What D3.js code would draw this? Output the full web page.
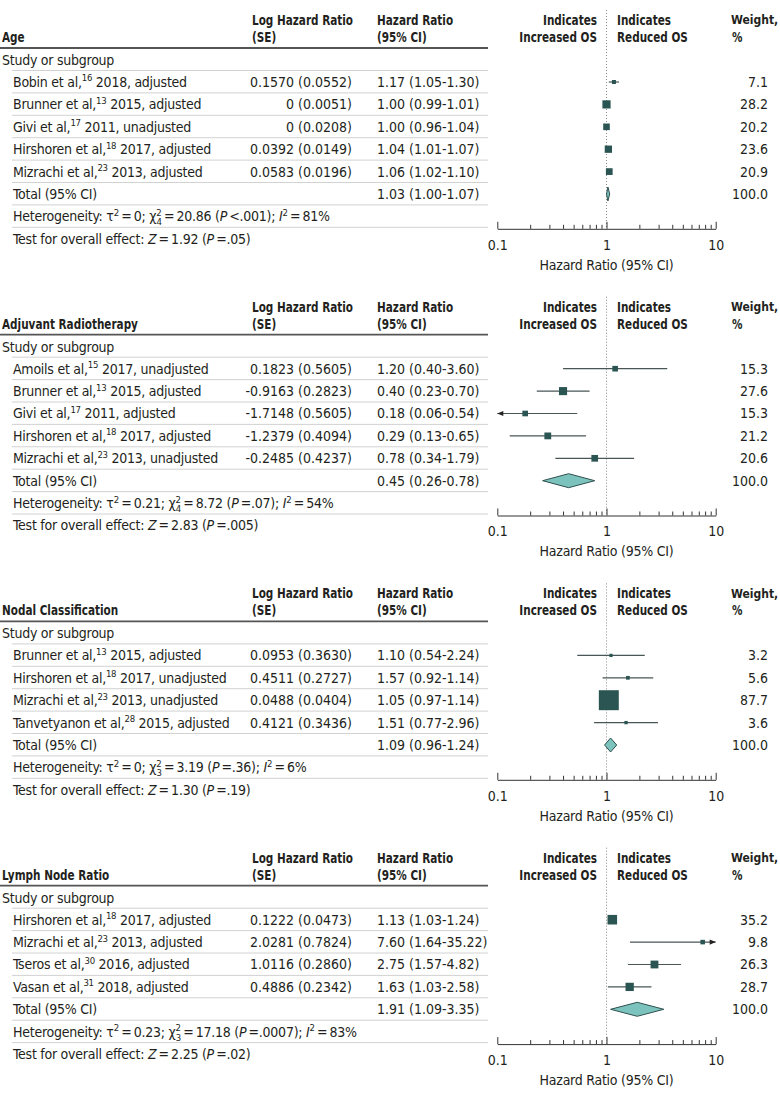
<!DOCTYPE html>
<html><head><meta charset="utf-8">
<script src="https://cdn.jsdelivr.net/npm/d3@7"></script>
<style>
body{margin:0;background:#fff}
svg text{font-family:"DejaVu Sans Condensed","DejaVu Sans",sans-serif;fill:#231f20}
</style>
</head><body>
<svg id="c" width="780" height="1097"></svg>
<script>
// ---------- DATA ----------
const panelTitles = ["Age", "Adjuvant Radiotherapy", "Nodal Classification", "Lymph Node Ratio"];
const studyAuthors = [
  ["Bobin et al,", "Brunner et al,", "Givi et al,", "Hirshoren et al,", "Mizrachi et al,"],
  ["Amoils et al,", "Brunner et al,", "Givi et al,", "Hirshoren et al,", "Mizrachi et al,"],
  ["Brunner et al,", "Hirshoren et al,", "Mizrachi et al,", "Tanvetyanon et al,"],
  ["Hirshoren et al,", "Mizrachi et al,", "Tseros et al,", "Vasan et al,"]
];
const studyRefs = [
  ["16", "13", "17", "18", "23"],
  ["15", "13", "17", "18", "23"],
  ["13", "18", "23", "28"],
  ["18", "23", "30", "31"]
];
const studySuffix = [
  [" 2018, adjusted", " 2015, adjusted", " 2011, unadjusted", " 2017, adjusted", " 2013, adjusted"],
  [" 2017, unadjusted", " 2015, adjusted", " 2011, adjusted", " 2017, adjusted", " 2013, unadjusted"],
  [" 2015, adjusted", " 2017, unadjusted", " 2013, unadjusted", " 2015, adjusted"],
  [" 2017, adjusted", " 2013, adjusted", " 2016, adjusted", " 2018, adjusted"]
];
const logHRLabels = [
  ["0.1570 (0.0552)", "0 (0.0051)", "0 (0.0208)", "0.0392 (0.0149)", "0.0583 (0.0196)"],
  ["0.1823 (0.5605)", "-0.9163 (0.2823)", "-1.7148 (0.5605)", "-1.2379 (0.4094)", "-0.2485 (0.4237)"],
  ["0.0953 (0.3630)", "0.4511 (0.2727)", "0.0488 (0.0404)", "0.4121 (0.3436)"],
  ["0.1222 (0.0473)", "2.0281 (0.7824)", "1.0116 (0.2860)", "0.4886 (0.2342)"]
];
const hrLabels = [
  ["1.17 (1.05-1.30)", "1.00 (0.99-1.01)", "1.00 (0.96-1.04)", "1.04 (1.01-1.07)", "1.06 (1.02-1.10)"],
  ["1.20 (0.40-3.60)", "0.40 (0.23-0.70)", "0.18 (0.06-0.54)", "0.29 (0.13-0.65)", "0.78 (0.34-1.79)"],
  ["1.10 (0.54-2.24)", "1.57 (0.92-1.14)", "1.05 (0.97-1.14)", "1.51 (0.77-2.96)"],
  ["1.13 (1.03-1.24)", "7.60 (1.64-35.22)", "2.75 (1.57-4.82)", "1.63 (1.03-2.58)"]
];
// plotted values (as drawn in the figure)
const hrValues = [
  [1.17, 1.00, 1.00, 1.04, 1.06],
  [1.20, 0.40, 0.18, 0.29, 0.78],
  [1.10, 1.57, 1.05, 1.51],
  [1.13, 7.60, 2.75, 1.63]
];
const ciLow = [
  [1.05, 0.99, 0.96, 1.01, 1.02],
  [0.40, 0.23, 0.06, 0.13, 0.34],
  [0.54, 0.92, 0.97, 0.77],
  [1.03, 1.64, 1.57, 1.03]
];
const ciHigh = [
  [1.30, 1.01, 1.04, 1.07, 1.10],
  [3.60, 0.70, 0.54, 0.65, 1.79],
  [2.24, 2.68, 1.14, 2.96],
  [1.24, 35.22, 4.82, 2.58]
];
const weights = [
  [7.1, 28.2, 20.2, 23.6, 20.9],
  [15.3, 27.6, 15.3, 21.2, 20.6],
  [3.2, 5.6, 87.7, 3.6],
  [35.2, 9.8, 26.3, 28.7]
];
const totalHR = [1.03, 0.45, 1.09, 1.91];
const totalLow = [1.00, 0.26, 0.96, 1.09];
const totalHigh = [1.07, 0.78, 1.24, 3.35];
const totalLabels = ["1.03 (1.00-1.07)", "0.45 (0.26-0.78)", "1.09 (0.96-1.24)", "1.91 (1.09-3.35)"];
const hetTau2 = ["0", "0.21", "0", "0.23"];
const hetChi2 = ["20.86", "8.72", "3.19", "17.18"];
const hetDf = ["4", "4", "3", "3"];
const hetP = ["<.001", "=.07", "=.36", "=.0007"];
const hetI2 = ["81", "54", "6", "83"];
const overallZ = ["1.92", "2.83", "1.30", "2.25"];
const overallP = ["=.05", "=.005", "=.19", "=.02"];
const axisTicks = [0.1, 1, 10];
const axisMinorTicks = [0.2,0.3,0.4,0.5,0.6,0.7,0.8,0.9,2,3,4,5,6,7,8,9];

// ---------- LAYOUT ----------
const svg = d3.select("#c");
const FS = 14;
const ROW = 22.4;
const x = d3.scaleLog().domain([0.1, 10]).range([497.3, 715.7]);
const boxSize = d3.scaleLinear().domain([0, 100]).range([2.6, 22.4]);
const SQ = "#2b5553", DIA = "#7cc3bd", LINE = "#4a5656";

function txt(g, xx, yy, s, opts = {}) {
  const t = g.append("text").attr("x", xx).attr("y", yy).attr("dy", "0.35em")
    .style("font-size", (opts.size || FS) + "px").text(s);
  if (opts.bold) {
    t.style("font-weight", "bold");
    if (!opts.noFit) t.classed("hdr", true);
  }
  if (opts.anchor) t.attr("text-anchor", opts.anchor);
  if (opts.tight) t.style("letter-spacing", "-0.25px");
  return t;
}
function rich(g, xx, yy, segs) {
  const t = g.append("text").attr("x", xx).attr("y", yy).attr("dy", "0.35em")
    .style("font-size", FS + "px").style("letter-spacing", "-0.25px");
  segs.forEach(s => {
    const sp = t.append("tspan").text(s.t);
    if (s.i) sp.style("font-style", "italic");
    if (s.sup) sp.style("font-size", "9.5px").attr("dy", -5.5);
    if (s.back) sp.attr("dy", 5.5);
    if (s.sub) sp.style("font-size", "9.5px").attr("dx", -5).attr("dy", 9.5);
    if (s.up) sp.attr("dy", -4);
  });
  return t;
}

let y0 = 20;
panelTitles.forEach((title, p) => {
  const g = svg.append("g");
  const n = studyAuthors[p].length;
  // header
  txt(g, 2, y0 + 17, title, {bold: true});
  txt(g, 252, y0, "Log Hazard Ratio", {bold: true});
  txt(g, 252, y0 + 17, "(SE)", {bold: true});
  txt(g, 377, y0, "Hazard Ratio", {bold: true});
  txt(g, 377, y0 + 17, "(95% CI)", {bold: true});
  txt(g, 597, y0, "Indicates", {bold: true, anchor: "end"});
  txt(g, 597, y0 + 17, "Increased OS", {bold: true, anchor: "end"});
  txt(g, 617, y0, "Indicates", {bold: true});
  txt(g, 617, y0 + 17, "Reduced OS", {bold: true});
  txt(g, 731, y0, "Weight,", {bold: true, noFit: true, size: 12});
  txt(g, 732, y0 + 17, "%", {bold: true});
  g.append("line").attr("x1", 0).attr("x2", 488).attr("y1", y0 + 28).attr("y2", y0 + 28)
    .attr("stroke", "#555").attr("stroke-width", 1.8);
  txt(g, 2, y0 + 40, "Study or subgroup", {tight: true});
  const rowY = i => y0 + 62 + i * ROW;
  // separators
  for (let i = 0; i <= n + 2; i++) {
    const ly = rowY(i) - 11.5;
    g.append("line").attr("x1", 12).attr("x2", 488).attr("y1", ly).attr("y2", ly)
      .attr("stroke", "#d2d2d2").attr("stroke-width", 1);
  }
  // axis position
  const axisY = rowY(n + 2) - 10;
  g.append("line").attr("x1", x(1)).attr("x2", x(1)).attr("y1", y0 - 10).attr("y2", axisY)
    .attr("stroke", "#8a8a8a").attr("stroke-width", 1).attr("stroke-dasharray", "1,2");
  // study rows
  studyAuthors[p].forEach((a, i) => {
    const yy = rowY(i);
    rich(g, 13, yy, [{t: a}, {t: studyRefs[p][i], sup: true}, {t: studySuffix[p][i], back: true}]);
    txt(g, 352, yy, logHRLabels[p][i], {anchor: "end"});
    txt(g, 377, yy, hrLabels[p][i]);
    txt(g, 768, yy, weights[p][i].toFixed(1), {anchor: "end"});
    const lo = Math.max(ciLow[p][i], 0.1), hi = Math.min(ciHigh[p][i], 10);
    g.append("line").attr("x1", x(lo)).attr("x2", x(hi)).attr("y1", yy).attr("y2", yy)
      .attr("stroke", LINE).attr("stroke-width", 1.2);
    if (ciLow[p][i] < 0.1) {
      g.append("path").attr("d", `M${x(0.1)},${yy}l6,-2.6v5.2z`).attr("fill", "#222");
    }
    if (ciHigh[p][i] > 10) {
      g.append("path").attr("d", `M${x(10)},${yy}l-6,-2.6v5.2z`).attr("fill", "#222");
    }
    const s = boxSize(weights[p][i]);
    g.append("rect").attr("x", x(hrValues[p][i]) - s / 2).attr("y", yy - s / 2)
      .attr("width", s).attr("height", s).attr("fill", SQ);
  });
  // total
  const ty = rowY(n);
  txt(g, 13, ty, "Total (95% CI)", {tight: true});
  txt(g, 377, ty, totalLabels[p]);
  txt(g, 768, ty, "100.0", {anchor: "end"});
  const dh = 7;
  g.append("path")
    .attr("d", `M${x(totalLow[p])},${ty}L${x(totalHR[p])},${ty - dh}L${x(totalHigh[p])},${ty}L${x(totalHR[p])},${ty + dh}Z`)
    .attr("fill", DIA).attr("stroke", "#2f4f4f").attr("stroke-width", 1);
  // heterogeneity & overall effect
  rich(g, 13, rowY(n + 1), [
    {t: "Heterogeneity: \u03c4"}, {t: "2", sup: true}, {t: "\u2009=\u2009" + hetTau2[p] + "; \u03c7", back: true},
    {t: "2", sup: true}, {t: hetDf[p], sub: true}, {t: "\u2009=\u2009" + hetChi2[p] + " (", up: true},
    {t: "P", i: true}, {t: "\u2009" + hetP[p] + "); "}, {t: "I", i: true}, {t: "2", sup: true},
    {t: "\u2009=\u2009" + hetI2[p] + "%", back: true}
  ]);
  rich(g, 13, rowY(n + 2), [
    {t: "Test for overall effect: "}, {t: "Z", i: true}, {t: "\u2009=\u2009" + overallZ[p] + " ("},
    {t: "P", i: true}, {t: "\u2009" + overallP[p] + ")"}
  ]);
  // axes
  const ag = g.append("g").attr("transform", `translate(0,${axisY})`)
    .call(d3.axisBottom(x).tickValues(axisTicks).tickFormat(d3.format("")).tickSizeInner(-7).tickSizeOuter(0).tickPadding(11));
  ag.selectAll("path,line").attr("stroke", "#333");
  ag.selectAll("text").style("font-size", FS + "px").attr("fill", "#231f20")
    .style("font-family", '"DejaVu Sans Condensed","DejaVu Sans",sans-serif');
  const mg = g.append("g").attr("transform", `translate(0,${axisY})`)
    .call(d3.axisBottom(x).tickValues(axisMinorTicks).tickFormat("").tickSizeInner(-4).tickSizeOuter(0));
  mg.select(".domain").remove();
  mg.selectAll("line").attr("stroke", "#333");
  txt(g, x(1), axisY + 36, "Hazard Ratio (95% CI)", {anchor: "middle", tight: true});
  y0 += 174.7 + n * ROW;
});
// the original's semibold face is narrower than DejaVu bold: condense headers
svg.selectAll("text.hdr").each(function() {
  const w = this.getComputedTextLength();
  d3.select(this).attr("textLength", w * 0.83).attr("lengthAdjust", "spacingAndGlyphs");
});
</script>
</body></html>
